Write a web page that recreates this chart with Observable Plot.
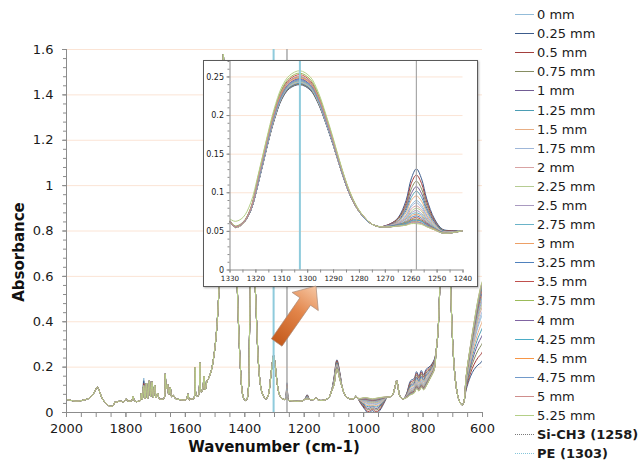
<!DOCTYPE html>
<html><head><meta charset="utf-8">
<script src="https://cdn.jsdelivr.net/npm/d3@7"></script>
<script src="https://cdn.jsdelivr.net/npm/@observablehq/plot@0.6"></script>
<style>
body{margin:0;background:#fff;font-family:"DejaVu Sans",Verdana,sans-serif;}
#wrap{position:relative;width:644px;height:460px;overflow:hidden;background:#fff;}
#main{position:absolute;left:0;top:0;}
#inset{position:absolute;left:203px;top:60px;width:275px;height:227px;box-sizing:border-box;border:1.5px solid #5a5a5a;background:#fff;box-shadow:1px 1px 2px rgba(0,0,0,.3);}
#inset svg{position:absolute;left:0;top:0;}
#arrow{position:absolute;left:0;top:0;}
.ttl{position:absolute;font-weight:bold;font-size:15px;color:#111;white-space:nowrap;}
#legend{position:absolute;left:515px;top:5px;font-size:13px;color:#1a1a1a;}
.row{display:flex;align-items:center;height:19.1px;white-space:nowrap;}
.sw{width:19px;height:0;margin-right:3px;}
</style></head>
<body><div id="wrap">
<div id="main"></div>
<div id="inset"></div>
<svg id="arrow" width="644" height="460"></svg>
<div class="ttl" style="left:19px;top:252px;transform:translate(-50%,-50%) rotate(-90deg);">Absorbance</div>
<div class="ttl" style="left:274px;top:447px;transform:translate(-50%,-50%);">Wavenumber (cm-1)</div>
<div id="legend"></div>
</div>
<script>
// ---------- series ----------
const depths = ["0 mm","0.25 mm","0.5 mm","0.75 mm","1 mm","1.25 mm","1.5 mm","1.75 mm","2 mm","2.25 mm","2.5 mm","2.75 mm","3 mm","3.25 mm","3.5 mm","3.75 mm","4 mm","4.25 mm","4.5 mm","4.75 mm","5 mm","5.25 mm"];
const colors = ["#93bcd9","#3c5c8c","#a33f3d","#868d62","#715c94","#4b9db4","#e8ae84","#9fb7d9","#d9a3a3","#b6cc92","#a99ac0","#6ab3c8","#eda066","#4f81bd","#c0504d","#9bbb59","#8064a2","#4bacc6","#f79646","#729aca","#cf8e8c","#b4cf87"];
const markerLabels = ["Si-CH3 (1258)","PE (1303)"];
const markerWn = [1258, 1303];
const markerColors = ["#a9a9a9","#8fcbdc"];

// ---------- main spectrum: points shared by all series ----------
const mainWn = [2000,1992,1980,1968,1955,1945,1935,1925,1915,1907,1900,1896,1891,1885,1878,1870,1862,1855,1848,1842,1838,1830,1822,1815,1808,1803,1798,1794,1786,1780,1776,1772,1764,1757,1752,1748,1745,1736,1731,1727,1721,1717,1712,1708,1703,1699,1693,1688,1680,1672,1668,1664,1660,1656,1651,1646,1640,1634,1625,1615,1605,1596,1591,1587,1580,1572,1567,1563,1557,1551,1547,1542,1537,1533,1527,1522,1516,1510,1505,1500,1495,1490,1485,1480,1476,1472,1468,1464,1459,1452,1446,1440,1432,1426,1420,1414,1408,1402,1398,1393,1388,1384,1380,1377,1373,1368,1363,1358,1352,1346,1340,1334,1328,1320,1315,1309,1303,1297,1291,1285,1278,1270,1264,1252,1245,1235,1225,1215,1205,1198,1182,1175,1166,1160,1154,1145,1135,1125,1115,1108,1072,1064,1056,1048,1040,1032,1026,1020,920,910,902,895,889,885,879,872,866,756,750,745,740,735,730,726,721,716,711,706,700,694,687,680,673,667,662];
const mainAbs = [0.058,0.055,0.052,0.050,0.051,0.054,0.057,0.062,0.072,0.088,0.105,0.112,0.100,0.078,0.058,0.044,0.034,0.028,0.027,0.032,0.045,0.046,0.050,0.049,0.047,0.052,0.060,0.050,0.050,0.052,0.072,0.052,0.048,0.050,0.052,0.085,0.058,0.062,0.130,0.062,0.140,0.070,0.135,0.066,0.120,0.066,0.085,0.060,0.058,0.062,0.170,0.105,0.125,0.080,0.110,0.070,0.075,0.062,0.058,0.056,0.055,0.058,0.082,0.056,0.060,0.060,0.200,0.075,0.072,0.220,0.090,0.100,0.160,0.100,0.140,0.150,0.170,0.200,0.240,0.290,0.360,0.460,0.600,0.850,1.200,1.580,1.300,1.450,1.250,1.150,1.050,1.000,0.800,0.580,0.350,0.180,0.085,0.058,0.053,0.058,0.100,0.350,0.650,0.750,0.750,0.620,0.500,0.320,0.180,0.110,0.080,0.066,0.060,0.080,0.130,0.200,0.250,0.200,0.130,0.085,0.066,0.058,0.058,0.053,0.052,0.050,0.049,0.050,0.052,0.058,0.058,0.056,0.058,0.064,0.056,0.053,0.054,0.058,0.070,0.095,0.110,0.080,0.066,0.061,0.060,0.062,0.072,0.063,0.068,0.070,0.080,0.110,0.140,0.120,0.075,0.062,0.060,0.270,0.350,0.500,0.750,1.100,1.250,1.100,1.300,1.000,0.700,0.500,0.300,0.180,0.100,0.058,0.038,0.034,0.050];

// ---------- main spectrum: points where the series differ ----------
const mainVarWn = [1258,1190,1100,1090,1080,1010,995,985,970,958,945,930,855,842,830,822,814,806,798,790,780,770,762,655,640,628,615,605,600,1740];
const mainVarAbs = [
[0.090,0.068,0.133,0.209,0.158,0.053,0.043,0.036,0.038,0.035,0.042,0.058,0.074,0.104,0.112,0.137,0.122,0.142,0.127,0.147,0.165,0.186,0.209,0.135,0.241,0.312,0.378,0.417,0.433,0.152],
[0.131,0.078,0.152,0.232,0.175,0.040,0.012,-0.003,0.008,-0.004,0.010,0.045,0.085,0.140,0.150,0.180,0.160,0.185,0.165,0.190,0.200,0.215,0.235,0.100,0.160,0.190,0.210,0.220,0.230,0.140],
[0.123,0.076,0.149,0.228,0.172,0.042,0.018,0.004,0.014,0.003,0.016,0.048,0.083,0.133,0.143,0.172,0.153,0.177,0.158,0.182,0.193,0.210,0.230,0.107,0.175,0.213,0.242,0.257,0.269,0.128],
[0.115,0.074,0.145,0.223,0.168,0.045,0.024,0.012,0.019,0.011,0.022,0.050,0.081,0.126,0.136,0.164,0.146,0.169,0.151,0.174,0.187,0.204,0.225,0.113,0.191,0.236,0.274,0.295,0.307,0.118],
[0.108,0.072,0.142,0.219,0.165,0.047,0.029,0.018,0.025,0.017,0.028,0.052,0.079,0.120,0.129,0.156,0.139,0.161,0.144,0.166,0.181,0.199,0.221,0.119,0.205,0.257,0.303,0.329,0.342,0.118],
[0.102,0.071,0.139,0.216,0.163,0.049,0.034,0.025,0.029,0.024,0.033,0.054,0.077,0.115,0.123,0.149,0.133,0.154,0.138,0.159,0.175,0.195,0.217,0.125,0.217,0.276,0.329,0.359,0.374,0.118],
[0.096,0.069,0.136,0.212,0.160,0.051,0.038,0.030,0.033,0.029,0.037,0.056,0.076,0.110,0.118,0.143,0.128,0.148,0.133,0.153,0.171,0.191,0.213,0.129,0.229,0.293,0.352,0.387,0.402,0.118],
[0.087,0.067,0.132,0.207,0.156,0.054,0.046,0.039,0.040,0.038,0.045,0.059,0.073,0.102,0.110,0.134,0.120,0.139,0.125,0.144,0.163,0.184,0.207,0.137,0.247,0.320,0.390,0.431,0.447,0.118],
[0.083,0.066,0.130,0.205,0.155,0.055,0.049,0.043,0.043,0.042,0.048,0.061,0.072,0.098,0.106,0.129,0.116,0.134,0.121,0.139,0.159,0.181,0.204,0.141,0.255,0.333,0.407,0.451,0.468,0.118],
[0.080,0.065,0.129,0.203,0.153,0.056,0.051,0.045,0.045,0.044,0.050,0.062,0.071,0.095,0.103,0.126,0.113,0.131,0.118,0.136,0.157,0.179,0.203,0.143,0.261,0.341,0.419,0.465,0.482,0.118],
[0.077,0.064,0.128,0.202,0.152,0.057,0.053,0.048,0.048,0.047,0.053,0.063,0.071,0.093,0.101,0.123,0.111,0.128,0.116,0.133,0.154,0.177,0.201,0.146,0.266,0.350,0.430,0.478,0.496,0.118],
[0.074,0.064,0.126,0.200,0.151,0.058,0.055,0.051,0.050,0.050,0.055,0.063,0.070,0.090,0.098,0.120,0.108,0.125,0.113,0.130,0.152,0.175,0.199,0.148,0.272,0.358,0.442,0.492,0.510,0.118],
[0.072,0.063,0.125,0.199,0.150,0.058,0.057,0.053,0.051,0.052,0.057,0.064,0.069,0.089,0.096,0.118,0.106,0.123,0.111,0.128,0.150,0.174,0.198,0.150,0.276,0.364,0.451,0.502,0.521,0.118],
[0.070,0.063,0.124,0.198,0.149,0.059,0.058,0.055,0.053,0.054,0.058,0.065,0.068,0.087,0.094,0.116,0.104,0.121,0.109,0.126,0.148,0.172,0.196,0.152,0.280,0.371,0.459,0.512,0.531,0.118],
[0.068,0.062,0.123,0.196,0.148,0.060,0.060,0.057,0.054,0.056,0.060,0.065,0.068,0.085,0.092,0.113,0.102,0.118,0.107,0.123,0.147,0.171,0.195,0.153,0.285,0.377,0.468,0.523,0.542,0.118],
[0.066,0.061,0.122,0.195,0.147,0.060,0.062,0.059,0.056,0.058,0.062,0.066,0.067,0.083,0.090,0.111,0.100,0.116,0.105,0.121,0.145,0.169,0.194,0.155,0.289,0.383,0.477,0.533,0.552,0.118],
[0.065,0.061,0.122,0.194,0.146,0.060,0.062,0.059,0.056,0.058,0.062,0.066,0.067,0.082,0.089,0.110,0.099,0.115,0.104,0.120,0.144,0.168,0.193,0.156,0.290,0.385,0.480,0.536,0.555,0.118],
[0.064,0.061,0.121,0.194,0.146,0.061,0.063,0.060,0.057,0.059,0.063,0.067,0.067,0.081,0.089,0.109,0.099,0.114,0.104,0.119,0.143,0.168,0.192,0.157,0.292,0.387,0.483,0.540,0.559,0.118],
[0.063,0.061,0.121,0.194,0.146,0.061,0.064,0.061,0.058,0.060,0.064,0.067,0.067,0.080,0.088,0.108,0.098,0.113,0.103,0.118,0.142,0.167,0.192,0.158,0.294,0.392,0.488,0.546,0.566,0.118],
[0.062,0.061,0.121,0.193,0.146,0.061,0.064,0.062,0.058,0.061,0.064,0.067,0.067,0.080,0.087,0.107,0.097,0.112,0.102,0.117,0.142,0.167,0.191,0.158,0.296,0.394,0.491,0.550,0.570,0.118],
[0.061,0.060,0.120,0.192,0.145,0.062,0.065,0.063,0.059,0.062,0.065,0.068,0.066,0.079,0.086,0.106,0.096,0.111,0.101,0.116,0.141,0.166,0.190,0.159,0.299,0.398,0.497,0.557,0.577,0.118],
[0.060,0.060,0.120,0.192,0.145,0.062,0.066,0.064,0.060,0.063,0.066,0.068,0.066,0.078,0.085,0.105,0.095,0.110,0.100,0.115,0.140,0.165,0.190,0.160,0.300,0.400,0.500,0.560,0.580,0.118]
];

// ---------- inset (1330-1240 cm-1) ----------
const insetWn = [1275,1272,1240];
const insetAbs = [0.059,0.056,0.051];
const insetVarWn = [1330,1328,1325,1322,1319,1316,1313,1310,1307,1303,1299,1296,1293,1290,1287,1284,1281,1278,1268,1265,1262,1260,1258,1256,1254,1251,1248,1245];
const insetVarAbs = [
[0.062,0.055,0.060,0.078,0.115,0.157,0.196,0.224,0.238,0.243,0.236,0.219,0.192,0.162,0.129,0.101,0.080,0.067, 0.058,0.062,0.071,0.084,0.090,0.084,0.071,0.058,0.050,0.049],
[0.062,0.055,0.060,0.077,0.113,0.155,0.193,0.221,0.235,0.240,0.233,0.216,0.190,0.160,0.128,0.100,0.080,0.067, 0.060,0.068,0.090,0.118,0.131,0.118,0.092,0.066,0.053,0.051],
[0.062,0.055,0.060,0.077,0.114,0.156,0.194,0.222,0.236,0.241,0.234,0.217,0.191,0.161,0.128,0.100,0.080,0.067, 0.060,0.067,0.086,0.112,0.123,0.112,0.088,0.064,0.052,0.051],
[0.062,0.055,0.060,0.077,0.114,0.156,0.194,0.222,0.236,0.241,0.234,0.217,0.191,0.161,0.128,0.100,0.080,0.067, 0.059,0.066,0.083,0.105,0.115,0.105,0.084,0.063,0.052,0.050],
[0.062,0.055,0.060,0.077,0.114,0.156,0.195,0.223,0.237,0.242,0.235,0.218,0.191,0.161,0.129,0.100,0.080,0.067, 0.059,0.064,0.080,0.099,0.108,0.099,0.080,0.062,0.051,0.050],
[0.062,0.055,0.060,0.077,0.114,0.156,0.195,0.223,0.237,0.242,0.235,0.218,0.191,0.161,0.129,0.100,0.080,0.067, 0.058,0.063,0.077,0.094,0.102,0.094,0.077,0.060,0.051,0.050],
[0.062,0.055,0.060,0.078,0.115,0.157,0.196,0.224,0.238,0.243,0.236,0.219,0.192,0.162,0.129,0.101,0.080,0.067, 0.058,0.063,0.074,0.090,0.096,0.089,0.074,0.059,0.050,0.049],
[0.062,0.055,0.060,0.078,0.115,0.157,0.196,0.224,0.238,0.243,0.236,0.219,0.192,0.162,0.129,0.101,0.080,0.067, 0.058,0.061,0.070,0.082,0.087,0.081,0.070,0.057,0.050,0.049],
[0.062,0.055,0.060,0.078,0.116,0.158,0.196,0.225,0.239,0.244,0.237,0.219,0.193,0.162,0.129,0.101,0.080,0.067, 0.057,0.061,0.068,0.079,0.083,0.078,0.068,0.056,0.050,0.049],
[0.062,0.055,0.060,0.078,0.116,0.158,0.196,0.225,0.239,0.244,0.237,0.219,0.193,0.162,0.129,0.101,0.080,0.067, 0.057,0.060,0.067,0.076,0.080,0.076,0.066,0.056,0.049,0.049],
[0.063,0.056,0.061,0.078,0.116,0.159,0.197,0.225,0.240,0.245,0.238,0.220,0.193,0.163,0.130,0.101,0.081,0.067, 0.057,0.060,0.066,0.074,0.077,0.073,0.065,0.055,0.049,0.049],
[0.063,0.056,0.061,0.078,0.116,0.159,0.197,0.225,0.240,0.245,0.238,0.220,0.193,0.163,0.130,0.101,0.081,0.067, 0.057,0.059,0.064,0.072,0.074,0.071,0.063,0.055,0.049,0.048],
[0.063,0.056,0.061,0.078,0.117,0.159,0.198,0.226,0.241,0.246,0.239,0.221,0.194,0.163,0.130,0.101,0.081,0.067, 0.057,0.059,0.063,0.070,0.072,0.069,0.062,0.054,0.049,0.048],
[0.063,0.056,0.061,0.079,0.118,0.160,0.199,0.227,0.242,0.247,0.240,0.222,0.195,0.164,0.130,0.102,0.081,0.067, 0.057,0.059,0.062,0.068,0.070,0.067,0.061,0.054,0.049,0.048],
[0.063,0.056,0.061,0.080,0.122,0.164,0.204,0.233,0.247,0.253,0.245,0.227,0.199,0.166,0.132,0.103,0.081,0.068, 0.056,0.058,0.061,0.066,0.068,0.065,0.060,0.053,0.048,0.048],
[0.064,0.057,0.062,0.080,0.123,0.166,0.205,0.234,0.249,0.255,0.247,0.228,0.200,0.167,0.133,0.103,0.082,0.068, 0.056,0.058,0.061,0.065,0.066,0.064,0.059,0.053,0.048,0.048],
[0.063,0.056,0.061,0.079,0.118,0.161,0.200,0.228,0.242,0.248,0.240,0.223,0.195,0.164,0.131,0.102,0.081,0.067, 0.056,0.058,0.060,0.064,0.065,0.063,0.059,0.053,0.048,0.048],
[0.063,0.056,0.061,0.079,0.120,0.162,0.201,0.230,0.245,0.250,0.243,0.224,0.197,0.165,0.131,0.102,0.081,0.068, 0.056,0.058,0.060,0.063,0.064,0.063,0.058,0.053,0.048,0.048],
[0.063,0.056,0.061,0.079,0.119,0.162,0.201,0.229,0.244,0.249,0.242,0.224,0.196,0.165,0.131,0.102,0.081,0.068, 0.056,0.057,0.059,0.062,0.063,0.061,0.057,0.053,0.048,0.048],
[0.063,0.056,0.061,0.078,0.117,0.159,0.198,0.226,0.241,0.246,0.239,0.221,0.194,0.163,0.130,0.101,0.081,0.067, 0.056,0.057,0.059,0.062,0.062,0.061,0.057,0.052,0.048,0.048],
[0.063,0.056,0.061,0.079,0.120,0.163,0.202,0.231,0.245,0.251,0.243,0.225,0.197,0.165,0.132,0.102,0.081,0.068, 0.056,0.057,0.058,0.061,0.061,0.060,0.056,0.052,0.048,0.048],
[0.066,0.063,0.068,0.087,0.125,0.168,0.208,0.237,0.252,0.258,0.250,0.231,0.202,0.169,0.134,0.104,0.082,0.068, 0.056,0.057,0.058,0.060,0.060,0.059,0.056,0.052,0.048,0.048]
];

// ---------- axes ----------
const yTicks = [0,0.2,0.4,0.6,0.8,1,1.2,1.4,1.6];
const xTicks = [2000,1800,1600,1400,1200,1000,800,600];
const insetYTicks = [0,0.05,0.1,0.15,0.2,0.25];
const insetXTicks = [1330,1320,1310,1300,1290,1280,1270,1260,1250,1240];

const fmt = d => String(+d.toFixed(3));
const axisColor = "#8c8c8c";
const gridColor = "#fbe4d5";

function buildRows(sharedWn, sharedAbs, varWn, varAbs) {
  const rows = [];
  depths.forEach((name, i) => {
    const pts = sharedWn.map((w, j) => ({wn: w, a: sharedAbs[j]}))
      .concat(varWn.map((w, j) => ({wn: w, a: varAbs[i][j]})));
    pts.sort((p, q) => q.wn - p.wn);
    pts.forEach(p => rows.push({series: name, k: i, wn: p.wn, a: p.a}));
  });
  return rows;
}
const mainRows = buildRows(mainWn, mainAbs, mainVarWn, mainVarAbs);
const insetRows = buildRows(insetWn, insetAbs, insetVarWn, insetVarAbs);
const markers = markerWn.map((w, i) => ({wn: w, color: markerColors[i]}));

// minor ticks
const yMinor = d3.range(0, 1.6001, 0.04);
const xMinor = d3.range(600, 2000.1, 50);
const iyMinor = d3.range(0, 0.2701, 0.01);
const ixMinor = d3.range(1240, 1330.1, 5);

const mainPlot = Plot.plot({
  width: 500, height: 460,
  marginLeft: 66, marginRight: 18, marginTop: 49, marginBottom: 48,
  x: {domain: [2000, 600], label: null},
  y: {domain: [0, 1.6], label: null},
  style: {fontFamily: "DejaVu Sans, Verdana, sans-serif", fontSize: "13px", color: "#1a1a1a", background: "transparent"},
  marks: [
    Plot.gridY({ticks: yTicks.slice(1), stroke: gridColor, strokeOpacity: 1}),
    Plot.line(mainRows, {x: "wn", y: "a", z: "series", stroke: d => colors[d.k], strokeWidth: 1, curve: "catmull-rom", clip: true}),
    Plot.ruleX(markers, {x: "wn", y1: 0, y2: 1.6, stroke: "color", strokeWidth: d => d.wn === 1303 ? 2 : 1.5}),
    Plot.ruleX([2000], {stroke: axisColor}),
    Plot.ruleY([0], {stroke: axisColor}),
    Plot.axisY({ticks: yMinor, tickSize: 3, tickFormat: () => "", stroke: axisColor, label: null}),
    Plot.axisY({ticks: yTicks, tickSize: 4, tickPadding: 9, tickFormat: fmt, stroke: axisColor, label: null}),
    Plot.axisX({ticks: xMinor, tickSize: 5, tickFormat: () => "", stroke: axisColor, label: null}),
    Plot.axisX({ticks: xTicks, tickSize: 5, tickPadding: 6, tickFormat: d => String(d), stroke: axisColor, label: null})
  ]
});
document.getElementById("main").append(mainPlot);

const insetPlot = Plot.plot({
  width: 272, height: 224,
  marginLeft: 25.5, marginRight: 13.5, marginTop: 0, marginBottom: 15.5,
  x: {domain: [1330, 1240], label: null},
  y: {domain: [0, 0.27], label: null},
  style: {fontFamily: "DejaVu Sans, Verdana, sans-serif", fontSize: "7.5px", color: "#1a1a1a", background: "transparent"},
  marks: [
    Plot.gridY({ticks: insetYTicks.slice(1), stroke: gridColor, strokeOpacity: 1}),
    Plot.line(insetRows, {x: "wn", y: "a", z: "series", stroke: d => colors[d.k], strokeWidth: 1, curve: "catmull-rom", clip: true}),
    Plot.ruleX(markers, {x: "wn", y1: 0, y2: 0.27, stroke: "color", strokeWidth: d => d.wn === 1303 ? 2 : 1.2}),
    Plot.ruleX([1330], {stroke: axisColor}),
    Plot.ruleY([0], {stroke: axisColor}),
    Plot.axisY({ticks: iyMinor, tickSize: 2, tickFormat: () => "", stroke: axisColor, label: null}),
    Plot.axisY({ticks: insetYTicks, tickSize: 3, tickPadding: 3, tickFormat: fmt, fontSize: 8, stroke: axisColor, label: null}),
    Plot.axisX({ticks: ixMinor, tickSize: 3, tickFormat: () => "", stroke: axisColor, label: null}),
    Plot.axisX({ticks: insetXTicks, tickSize: 3, tickPadding: 3, tickFormat: d => String(d), fontSize: 7.2, stroke: axisColor, label: null})
  ]
});
document.getElementById("inset").append(insetPlot);

// ---------- callout arrow (annotation) ----------
const arrowSvg = document.getElementById("arrow");
arrowSvg.innerHTML = '<defs><linearGradient id="ag" x1="276" y1="343" x2="316" y2="286" gradientUnits="userSpaceOnUse">' +
  '<stop offset="0" stop-color="#c45a1c"/><stop offset="0.55" stop-color="#e2854a"/><stop offset="1" stop-color="#f6c7a4"/></linearGradient></defs>' +
  '<polygon points="271.4,338.8 299.9,297.8 292.1,292.4 316,286 318.3,310.6 310.5,305.2 282,346.2" fill="url(#ag)" stroke="#a88a78" stroke-width="0.7"/>';

// ---------- legend ----------
const legend = document.getElementById("legend");
const entries = depths.map((d, i) => ({label: d, color: colors[i], style: "solid", bold: false}))
  .concat([{label: markerLabels[0], color: "#7a7a7a", style: "dotted", bold: true},
           {label: markerLabels[1], color: "#86c6da", style: "dotted", bold: true}]);
entries.forEach(e => {
  const row = document.createElement("div");
  row.className = "row";
  const sw = document.createElement("span");
  sw.className = "sw";
  sw.style.borderTop = "1.5px " + e.style + " " + e.color;
  const tx = document.createElement("span");
  tx.textContent = e.label;
  if (e.bold) tx.style.fontWeight = "bold";
  row.append(sw, tx);
  legend.append(row);
});
</script>
</body></html>
